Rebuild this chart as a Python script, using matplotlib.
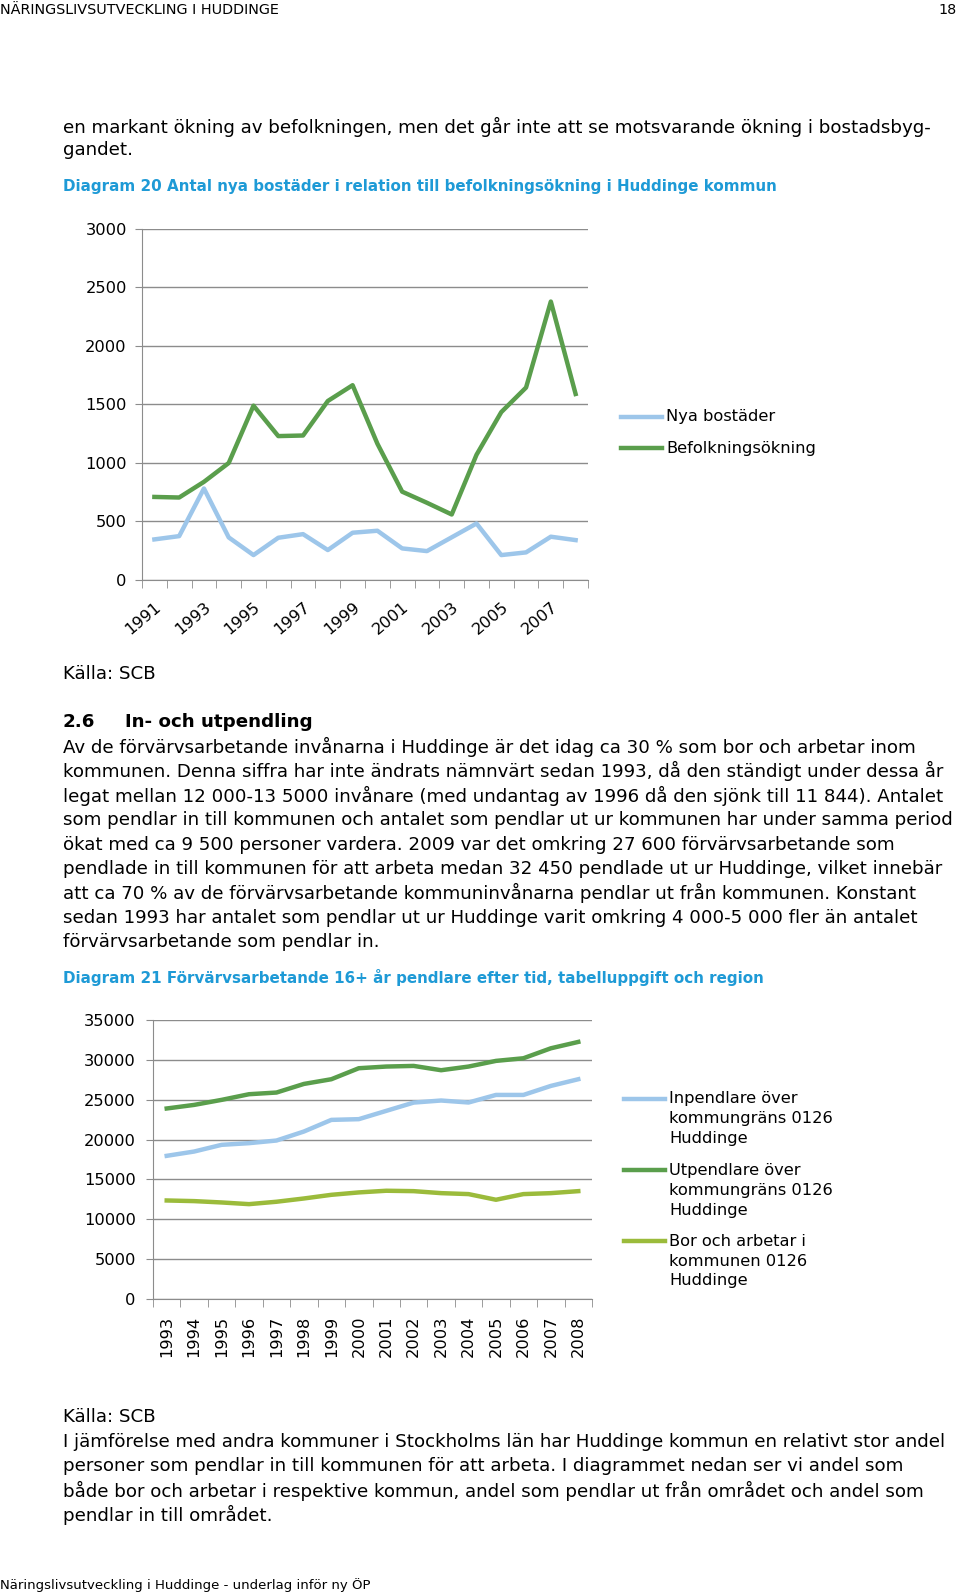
import numpy as np
import matplotlib
matplotlib.use("Agg")
import matplotlib.pyplot as plt
from matplotlib.lines import Line2D

plt.rcParams['font.family'] = ['DejaVu Sans']

# Diagram 20
years20 = list(range(1991, 2009))
nya_bostader = [347, 375, 782, 364, 213, 361, 392, 256, 404, 421, 270, 247, 365, 483, 213, 236, 370, 341]
befolkningsokning = [710, 705, 839, 1000, 1490, 1230, 1235, 1530, 1665, 1165, 755, 660, 560, 1070, 1435, 1645, 2380, 1590]
labels20 = ['Nya bostäder', 'Befolkningsökning']

# Diagram 21
years21 = list(range(1993, 2009))
inpendlare = [17960, 18500, 19340, 19550, 19880, 21010, 22470, 22560, 23600, 24640, 24900, 24650, 25600, 25600, 26730, 27570]
utpendlare = [23900, 24350, 24980, 25690, 25900, 26980, 27570, 28950, 29160, 29240, 28700, 29160, 29870, 30200, 31450, 32250]
bor_arbetar = [12360, 12280, 12110, 11900, 12200, 12610, 13070, 13370, 13580, 13530, 13280, 13160, 12450, 13160, 13280, 13530]
labels21 = ['Inpendlare över\nkommungräns 0126\nHuddinge',
            'Utpendlare över\nkommungräns 0126\nHuddinge',
            'Bor och arbetar i\nkommunen 0126\nHuddinge']

BLUE = '#9DC6EA'
GREEN = '#5A9E4C'
LIME = '#9BBB3B'
GRID = '#8C8C8C'
TITLE = '#1E9AD6'
BODY = 13.15
CHART = 11.7

W, H = 960, 1594
fig = plt.figure(figsize=(W / 100, H / 100), dpi=100)


def txt(x, y, s, **kw):
    kw.setdefault('fontsize', BODY)
    kw.setdefault('va', 'center')
    fig.text(x / W, 1 - y / H, s, **kw)


def axes_px(left, top, right, bottom):
    return fig.add_axes([left / W, 1 - bottom / H, (right - left) / W, (bottom - top) / H])


def legend_px(x, ys, colors, labels, gap=20):
    # handle sits on the first text line, like the Excel legend
    for y, c, lab in zip(ys, colors, labels):
        fig.add_artist(Line2D([x / W, (x + 41) / W], [1 - y / H, 1 - y / H], color=c, lw=3.2,
                              transform=fig.transFigure))
        for k, part in enumerate(lab.split('\n')):
            txt(x + 45, y + k * gap, part, fontsize=CHART)


def style_axes(ax, ymax, step, pad):
    ax.set_ylim(0, ymax)
    ax.set_yticks(np.arange(0, ymax + 1, step))
    ax.yaxis.grid(True, color=GRID, lw=1)
    ax.set_axisbelow(True)
    for s in ['top', 'right']:
        ax.spines[s].set_visible(False)
    for s in ['left', 'bottom']:
        ax.spines[s].set_color(GRID)
    ax.tick_params(axis='y', colors=GRID, labelcolor='black', labelsize=CHART, length=5, pad=pad)
    ax.tick_params(axis='x', which='both', colors=GRID, labelcolor='black', labelsize=CHART)


# header / text
txt(0, 10, 'NÄRINGSLIVSUTVECKLING I HUDDINGE', fontsize=10.4)
txt(957, 10, '18', fontsize=10.4, ha='right')
txt(63, 127, 'en markant ökning av befolkningen, men det går inte att se motsvarande ökning i bostadsbyg-')
txt(63, 150, 'gandet.')
txt(63, 187, 'Diagram 20 Antal nya bostäder i relation till befolkningsökning i Huddinge kommun',
    fontsize=10.9, color=TITLE, weight='bold')

# chart 1
ax1 = axes_px(142, 229, 588, 580)
x1 = np.arange(len(years20))
ax1.plot(x1, nya_bostader, color=BLUE, lw=3.2)
ax1.plot(x1, befolkningsokning, color=GREEN, lw=3.2)
style_axes(ax1, 3000, 500, 6)
ax1.set_xlim(-0.5, len(years20) - 0.5)
ax1.set_xticks(x1[::2])
ax1.set_xticklabels([str(y) for y in years20[::2]], rotation=40, ha='right', rotation_mode='anchor')
ax1.set_xticks(np.arange(-0.5, len(years20)), minor=True)
ax1.tick_params(axis='x', which='major', length=0, pad=14)
ax1.tick_params(axis='x', which='minor', length=6)
legend_px(621, [417, 448], [BLUE, GREEN], labels20)

txt(63, 674, 'Källa: SCB')
txt(63, 722, '2.6', weight='bold')
txt(125, 722, 'In- och utpendling', weight='bold')
para2 = [
    'Av de förvärvsarbetande invånarna i Huddinge är det idag ca 30 % som bor och arbetar inom',
    'kommunen. Denna siffra har inte ändrats nämnvärt sedan 1993, då den ständigt under dessa år',
    'legat mellan 12 000-13 5000 invånare (med undantag av 1996 då den sjönk till 11 844). Antalet',
    'som pendlar in till kommunen och antalet som pendlar ut ur kommunen har under samma period',
    'ökat med ca 9 500 personer vardera. 2009 var det omkring 27 600 förvärvsarbetande som',
    'pendlade in till kommunen för att arbeta medan 32 450 pendlade ut ur Huddinge, vilket innebär',
    'att ca 70 % av de förvärvsarbetande kommuninvånarna pendlar ut från kommunen. Konstant',
    'sedan 1993 har antalet som pendlar ut ur Huddinge varit omkring 4 000-5 000 fler än antalet',
    'förvärvsarbetande som pendlar in.',
]
for i, line in enumerate(para2):
    txt(63, 747 + i * 24.4, line)

txt(63, 978, 'Diagram 21 Förvärvsarbetande 16+ år pendlare efter tid, tabelluppgift och region',
    fontsize=10.9, color=TITLE, weight='bold')

# chart 2
ax2 = axes_px(153, 1020, 592, 1299)
x2 = np.arange(len(years21))
ax2.plot(x2, inpendlare, color=BLUE, lw=3.2)
ax2.plot(x2, utpendlare, color=GREEN, lw=3.2)
ax2.plot(x2, bor_arbetar, color=LIME, lw=3.2)
style_axes(ax2, 35000, 5000, 7.5)
ax2.set_xlim(-0.5, len(years21) - 0.5)
ax2.set_xticks(x2)
ax2.set_xticklabels([str(y) for y in years21], rotation=90, va='top')
ax2.set_xticks(np.arange(-0.5, len(years21)), minor=True)
ax2.tick_params(axis='x', which='major', length=0, pad=12)
ax2.tick_params(axis='x', which='minor', length=6)
legend_px(624, [1099, 1170, 1241], [BLUE, GREEN, LIME], labels21)

txt(63, 1417, 'Källa: SCB')
para3 = [
    'I jämförelse med andra kommuner i Stockholms län har Huddinge kommun en relativt stor andel',
    'personer som pendlar in till kommunen för att arbeta. I diagrammet nedan ser vi andel som',
    'både bor och arbetar i respektive kommun, andel som pendlar ut från området och andel som',
    'pendlar in till området.',
]
for i, line in enumerate(para3):
    txt(63, 1442 + i * 24.4, line)

txt(0, 1585, 'Näringslivsutveckling i Huddinge - underlag inför ny ÖP', fontsize=9.5)

fig.savefig('out.png', dpi=100)
